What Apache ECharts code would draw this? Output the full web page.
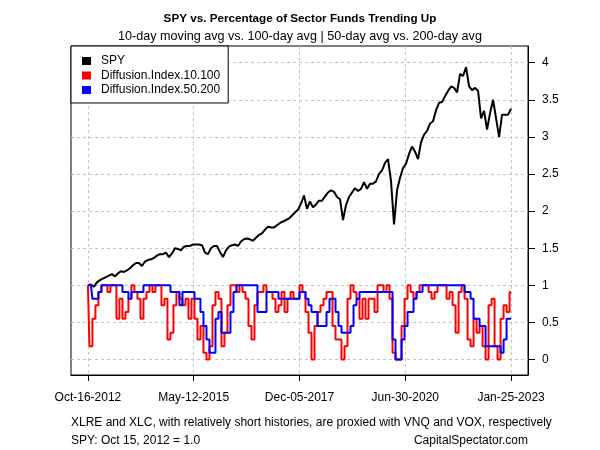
<!DOCTYPE html>
<html><head><meta charset="utf-8">
<script src="https://cdn.jsdelivr.net/npm/echarts@6/dist/echarts.min.js"></script>
<style>html,body{margin:0;padding:0;background:#fff}#c{width:600px;height:450px}</style>
</head><body><div id="c"></div>
<script>
const FONT = '"Liberation Sans", Arial, sans-serif';
const titleText = 'SPY vs. Percentage of Sector Funds Trending Up';
const subtitleText = '10-day moving avg vs. 100-day avg | 50-day avg vs. 200-day avg';
const footer1 = 'XLRE and XLC, with relatively short histories, are proxied with VNQ and VOX, respectively';
const footer2 = 'SPY: Oct 15, 2012 = 1.0';
const footer3 = 'CapitalSpectator.com';
const seriesNames = ['SPY', 'Diffusion.Index.10.100', 'Diffusion.Index.50.200'];
const xTickLabels = ['Oct-16-2012', 'May-12-2015', 'Dec-05-2017', 'Jun-30-2020', 'Jan-25-2023'];
const yTicks = [0, 0.5, 1, 1.5, 2, 2.5, 3, 3.5, 4];

const spy = [
1.00,1.01,0.98,1.04,1.07,1.09,1.11,1.13,1.15,1.12,
1.16,1.19,1.18,1.20,1.23,1.27,1.30,1.30,1.26,1.32,
1.34,1.35,1.37,1.40,1.42,1.42,1.44,1.38,1.43,1.50,
1.49,1.47,1.52,1.53,1.53,1.55,1.55,1.55,1.54,1.44,
1.42,1.50,1.53,1.53,1.45,1.38,1.47,1.52,1.54,1.55,
1.53,1.59,1.62,1.63,1.62,1.60,1.64,1.68,1.70,1.75,
1.79,1.78,1.78,1.81,1.84,1.86,1.88,1.90,1.94,1.98,
2.02,2.10,2.21,2.03,2.13,2.05,2.09,2.14,2.14,2.20,
2.25,2.28,2.26,2.19,2.16,1.88,2.08,2.19,2.25,2.31,
2.27,2.30,2.39,2.30,2.37,2.37,2.40,2.50,2.55,2.65,
2.70,2.40,1.82,2.28,2.45,2.58,2.64,2.77,2.87,2.80,
2.70,2.93,3.03,3.08,3.18,3.21,3.36,3.46,3.47,3.55,
3.62,3.68,3.66,3.60,3.85,3.82,3.94,3.68,3.63,3.66,
3.62,3.25,3.35,3.10,3.32,3.50,3.25,3.00,3.30,3.30,
3.30,3.38
];
const diff10100 = [
1.00,0.18,0.55,0.73,0.91,1.00,1.00,0.91,1.00,1.00,
0.55,0.82,0.55,0.64,0.82,1.00,0.91,0.82,0.55,0.82,
0.91,1.00,0.91,1.00,1.00,0.73,0.82,0.27,0.36,0.73,
0.91,0.82,0.73,0.82,0.55,0.82,0.55,0.27,0.45,0.09,
0.00,0.18,0.73,0.91,0.82,0.18,0.36,0.73,1.00,1.00,
0.91,1.00,0.91,0.82,0.45,0.27,0.73,0.91,0.91,1.00,
0.91,0.91,0.82,0.64,0.73,0.91,0.64,0.82,0.91,0.82,
0.82,1.00,0.91,0.64,0.36,0.00,0.45,0.64,0.73,0.82,
0.91,0.91,0.45,0.27,0.27,0.00,0.18,0.82,1.00,0.91,
0.82,0.55,0.82,0.55,0.82,0.82,0.64,1.00,1.00,0.91,
1.00,0.82,0.09,0.00,0.00,0.45,0.82,1.00,0.91,0.82,
0.91,1.00,1.00,1.00,0.91,0.82,0.91,1.00,1.00,1.00,
0.82,0.91,0.73,0.36,0.91,1.00,0.82,0.27,0.18,0.55,
0.36,0.45,0.18,0.00,0.73,0.82,0.18,0.00,0.55,0.73,
0.64,0.91
];
const diff50200 = [
1.00,1.00,0.82,0.82,0.91,1.00,1.00,1.00,1.00,1.00,
1.00,1.00,0.91,0.91,0.82,0.91,0.91,0.91,0.91,1.00,
1.00,1.00,1.00,1.00,1.00,1.00,1.00,1.00,0.91,0.91,
0.91,0.73,0.91,0.91,0.91,0.91,0.82,0.82,0.64,0.45,
0.27,0.09,0.09,0.55,0.64,0.36,0.36,0.36,0.64,0.91,
1.00,1.00,1.00,1.00,1.00,1.00,1.00,0.64,0.64,0.64,
0.91,0.91,0.91,0.91,0.82,0.82,0.82,0.82,0.82,0.82,
0.82,0.91,0.91,0.82,0.73,0.64,0.64,0.45,0.45,0.45,
0.64,0.82,0.82,0.64,0.45,0.36,0.36,0.36,0.45,0.73,
0.82,0.91,0.91,0.91,0.91,0.91,0.91,0.91,0.91,0.91,
0.91,0.91,0.27,0.00,0.00,0.27,0.45,0.64,0.64,0.82,
0.91,0.91,1.00,1.00,1.00,1.00,1.00,1.00,1.00,1.00,
1.00,1.00,1.00,1.00,1.00,1.00,0.91,0.91,0.82,0.55,
0.55,0.45,0.45,0.18,0.18,0.18,0.18,0.18,0.09,0.27,
0.55,0.55
];

const N = spy.length;
const xTickPos = xTickLabels.map((_, k) => k * (N - 1) / (xTickLabels.length - 1));
const withIndex = arr => arr.map((v, i) => [i, v]);
const gridLine = { show: true, lineStyle: { color: '#c4c4c4', width: 1, type: [3, 3] } };

const chart = echarts.init(document.getElementById('c'), null, { renderer: 'canvas' });
chart.setOption({
  animation: false,
  backgroundColor: '#fff',
  textStyle: { fontFamily: FONT, color: '#000' },
  title: [
    { text: titleText, left: 'center', top: 12, padding: 0, textStyle: { fontFamily: FONT, fontSize: 11.7, fontWeight: 'bold', color: '#000', lineHeight: 14 } },
    { text: subtitleText, left: 'center', top: 29.5, padding: 0, textStyle: { fontFamily: FONT, fontSize: 12.6, fontWeight: 'normal', color: '#000', lineHeight: 14 } },
    { text: footer1, left: 71, top: 415.5, padding: 0, textStyle: { fontFamily: FONT, fontSize: 12, fontWeight: 'normal', color: '#000', lineHeight: 14 } },
    { text: footer2, left: 71, top: 434, padding: 0, textStyle: { fontFamily: FONT, fontSize: 12, fontWeight: 'normal', color: '#000', lineHeight: 14 } },
    { text: footer3, right: 72, top: 434, padding: 0, textStyle: { fontFamily: FONT, fontSize: 12, fontWeight: 'normal', color: '#000', lineHeight: 14 } }
  ],
  legend: {
    orient: 'vertical', left: 71, top: 46,
    padding: [8, 8, 6, 11], itemGap: 0.5, itemWidth: 9, itemHeight: 8, icon: 'rect',
    backgroundColor: '#fff', borderColor: '#000', borderWidth: 1, borderRadius: 0,
    textStyle: { fontFamily: FONT, fontSize: 12, color: '#000', lineHeight: 14, padding: [0, 0, 0, 5] },
    data: seriesNames
  },
  grid: { left: 71, right: 72, top: 46, bottom: 75, show: true, borderColor: '#000', borderWidth: 1, backgroundColor: 'transparent' },
  xAxis: {
    type: 'value', min: -0.04 * (N - 1), max: (N - 1) * 1.04,
    axisLine: { show: true, onZero: false, lineStyle: { color: '#000', width: 1 } },
    axisTick: { show: true, customValues: xTickPos, length: 6, lineStyle: { color: '#000' } },
    axisLabel: { customValues: xTickPos, margin: 17, color: '#000', fontSize: 12, fontFamily: FONT,
      formatter: v => xTickLabels[Math.round(v * (xTickLabels.length - 1) / (N - 1))] },
    splitLine: gridLine
  },
  yAxis: {
    type: 'value', position: 'right', min: -0.209, max: 4.225,
    axisLine: { show: true, onZero: false, lineStyle: { color: '#000', width: 1 } },
    axisTick: { show: true, customValues: yTicks, length: 7, lineStyle: { color: '#000' } },
    axisLabel: { customValues: yTicks, margin: 14, color: '#000', fontSize: 12, fontFamily: FONT, formatter: v => String(v) },
    splitLine: gridLine
  },
  series: [
    { name: seriesNames[0], type: 'line', data: withIndex(spy), showSymbol: false, color: '#000', lineStyle: { width: 2, color: '#000' }, z: 2 },
    { name: seriesNames[1], type: 'line', data: withIndex(diff10100), showSymbol: false, step: 'middle', color: '#ff0000', lineStyle: { width: 2, color: '#ff0000' }, z: 3 },
    { name: seriesNames[2], type: 'line', data: withIndex(diff50200), showSymbol: false, step: 'middle', color: '#0000ff', lineStyle: { width: 2, color: '#0000ff' }, z: 4 }
  ]
});
</script>
</body></html>
